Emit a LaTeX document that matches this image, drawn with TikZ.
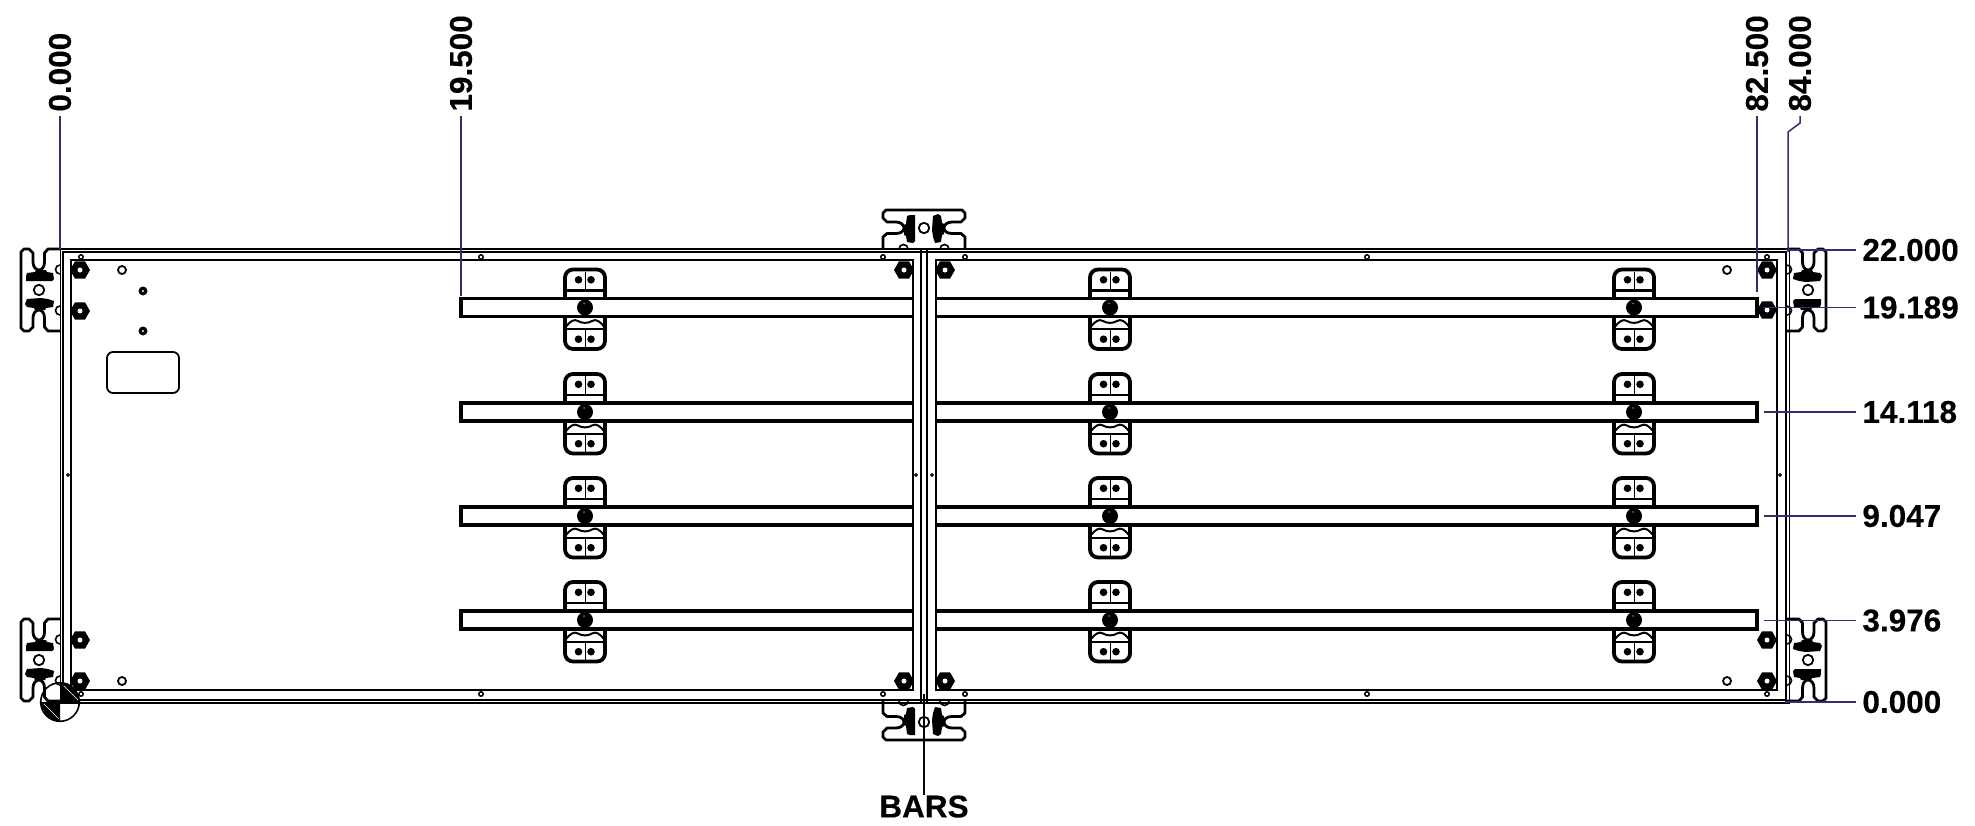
\documentclass[tikz,border=0pt]{standalone}
\usepackage{fontspec}
\setmainfont{Liberation Sans}[BoldFeatures={FakeBold=0.25}]
\definecolor{navyline}{RGB}{48,48,112}
\usetikzlibrary{calc}
\tikzset{
  x=0.5pt,y=-0.5pt,
  frameline/.style={line width=0.9pt,black},
  barline/.style={line width=1.65pt,black},
  bracketline/.style={line width=1.4pt,black,line join=round},
  leaderline/.style={line width=0.75pt,navyline},
  dimtext/.style={font=\fontsize{15.75}{16}\selectfont\bfseries,inner ysep=0pt,inner xsep=3pt,black},
}
\newcommand{\Hexbolt}[2]{%
  \fill[black] ($(#1,#2)+(0:10)$) -- ($(#1,#2)+(60:10)$) -- ($(#1,#2)+(120:10)$) -- ($(#1,#2)+(180:10)$) -- ($(#1,#2)+(240:10)$) -- ($(#1,#2)+(300:10)$) -- cycle;
  \fill[white] (#1,#2) circle[radius=2.5];
}
\newcommand{\Pin}[2]{\draw[line width=0.75pt] (#1,#2) circle[radius=2.2];}
\newcommand{\Ring}[2]{\draw[line width=0.9pt] (#1,#2) circle[radius=4];}
\newcommand{\Stud}[2]{\fill[black] (#1,#2) circle[radius=4.5]; \fill[white] (#1,#2) circle[radius=1.2];}
\newcommand{\Speck}[2]{\draw[line width=0.55pt] (#1,#2) circle[radius=1.4];}
% bracket in local coordinates, washer at the origin, frame side at +v
\newcommand{\Bracket}{%
  \draw[bracketline] (-41,21) -- (-41,9) -- (-37,5.5) -- (-28,5.5)
     .. controls (-23,5.5) and (-20,3) .. (-20,0)
     .. controls (-20,-3) and (-23,-6) .. (-28,-6)
     -- (-37,-6) -- (-41,-10) -- (-41,-15) -- (-38,-18) -- (38,-18) -- (41,-15) -- (41,-10) -- (37,-6) -- (28,-6)
     .. controls (23,-6) and (20,-3) .. (20,0)
     .. controls (20,3) and (23,5.5) .. (28,5.5)
     -- (37,5.5) -- (41,9) -- (41,21);
  \draw[line width=0.8pt] (-25,21) arc[start angle=180,end angle=360,x radius=4.5,y radius=4.5];
  \draw[line width=0.8pt] (16,21) arc[start angle=180,end angle=360,x radius=4.5,y radius=4.5];
  \fill[black] (-17,-12) -- (-14,-13) -- (-9,-13) -- (-9,13) -- (-11,15) -- (-17,14) -- (-18,8) -- (-20,7) -- (-20,-3) -- (-18,-4) -- cycle;
  \fill[black] (9,-12) -- (14,-14) -- (17,-12) -- (18,-5) -- (20,-4) -- (20,6) -- (18,7) -- (17,14) -- (11,15) -- (9,9) -- (8,2) -- cycle;
  \draw[line width=0.9pt] (0,0) circle[radius=5.2];
}
\newcommand{\ClipBody}[2]{%
  \begin{scope}[shift={(#1,#2)}]
    \draw[line width=1.9pt,rounded corners=4pt] (-20,-7) -- (-20,-38) -- (20,-38) -- (20,-7);
    \draw[line width=1.9pt,rounded corners=4pt] (-20,7) -- (-20,41.5) -- (20,41.5) -- (20,7);
    \draw[line width=1.2pt] (-20,-17) -- (20,-17);
    \draw[line width=1.2pt] (-20,21.7) -- (20,21.7);
    \draw[line width=0.5pt] (0,-36) -- (0,-17);
    \draw[line width=0.5pt] (0,21.7) -- (0,40);
    \fill (-6.5,-27.7) circle[radius=3.8];
    \fill (6,-27.7) circle[radius=3.8];
    \fill (-6.5,31.7) circle[radius=3.8];
    \fill (6,31.7) circle[radius=3.8];
    \draw[line width=1pt] (-19,19) .. controls (-15,14) and (-11,11) .. (-7,13.5) .. controls (-3,16) and (3,16) .. (7,13.5) .. controls (11,11) and (15,14) .. (19,19);
  \end{scope}}
\newcommand{\Ball}[2]{\fill[black] (#1,#2) circle[radius=8];\fill[black!55] ($(#1,#2)+(-1,-4)$) circle[radius=1];}
\begin{document}
\begin{tikzpicture}
\useasboundingbox (0,0) rectangle (1975,825);

% mounting brackets
\begin{scope}[shift={(39,290)},cm={0,-1,-1,0,(0,0)}]\Bracket\end{scope}
\begin{scope}[shift={(39,660)},cm={0,-1,-1,0,(0,0)}]\Bracket\end{scope}
\begin{scope}[shift={(1808,290)},cm={0,1,1,0,(0,0)}]\Bracket\end{scope}
\begin{scope}[shift={(1808,660)},cm={0,1,1,0,(0,0)}]\Bracket\end{scope}
\begin{scope}[shift={(924,228)}]\Bracket\end{scope}
\begin{scope}[shift={(924,722)},cm={1,0,0,-1,(0,0)}]\Bracket\end{scope}

% clips and bars
\foreach \ry in {307.5,412,516,620}{
  \foreach \cx in {585,1110,1634}{\ClipBody{\cx}{\ry}}
  \fill[white] (461,\ry-9) rectangle (913,\ry+9);
  \fill[white] (936,\ry-9) rectangle (1757,\ry+9);
  \draw[barline] (913,\ry-9) -- (461,\ry-9) -- (461,\ry+9) -- (913,\ry+9);
  \draw[barline] (936,\ry-9) -- (1757,\ry-9) -- (1757,\ry+9) -- (936,\ry+9);
  \foreach \cx in {585,1110,1634}{\Ball{\cx}{\ry}}
}

% frame
\draw[frameline] (60.5,249.3) -- (1789.5,249.3) -- (1789.5,703) -- (60.5,703) -- cycle;
\draw[frameline] (63,252) -- (1786,252) -- (1786,700) -- (63,700) -- cycle;
\draw[frameline] (71,690) -- (71,260) -- (913,260) -- (913,690) -- cycle;
\draw[frameline] (1777,690) -- (1777,260) -- (936,260) -- (936,690) -- cycle;
\draw[line width=1pt] (62,248.7) -- (92,248.7);
\draw[line width=1pt] (1757,248.7) -- (1786,248.7);
\draw[line width=1pt] (62,703) -- (92,703);
\draw[line width=1pt] (1757,703) -- (1786,703);
\draw[line width=1.1pt] (921.3,249) -- (921.3,703);
\draw[line width=1.1pt] (926.7,249) -- (926.7,703);

% window
\draw[line width=0.9pt,rounded corners=3pt] (107,352) rectangle (179,393);

% fasteners
\Hexbolt{80}{270}\Hexbolt{80}{311}\Hexbolt{80}{640}\Hexbolt{80}{681}
\Hexbolt{904}{270}\Hexbolt{945}{270}\Hexbolt{904}{681}\Hexbolt{945}{681}
\Hexbolt{1767}{270}\Hexbolt{1767}{310}\Hexbolt{1767}{640}\Hexbolt{1767}{681}
\Ring{122}{270}\Ring{122}{681}\Ring{1727}{270}\Ring{1727}{681}
\Stud{143}{291}\Stud{143}{331}
\foreach \px in {81,481,883,965,1367,1767}{\Pin{\px}{257}\Pin{\px}{694}}
\Speck{68}{475}\Speck{916}{475}\Speck{932}{475}\Speck{1780}{475}

% datum symbol
\coordinate (datum) at (60,702);
\fill[black] (datum) -- ++(19.3,0) arc[start angle=0,end angle=-90,radius=19.3] -- cycle;
\fill[black] (datum) -- ++(-19.3,0) arc[start angle=180,end angle=90,radius=19.3] -- cycle;
\draw[line width=0.8pt] (datum) circle[radius=19.3];
\draw[line width=0.3pt,white] ($(datum)+(-16,2)$) -- ($(datum)+(-1,17)$);
\draw[line width=0.3pt,white] ($(datum)+(4,-16)$) -- ($(datum)+(18,-2)$);

% dimension labels
\node[dimtext,inner xsep=2pt,rotate=90,anchor=west] (v0) at (60,116) {0.000};
\node[dimtext,inner xsep=2pt,rotate=90,anchor=west] (v195) at (461,116) {19.500};
\node[dimtext,inner xsep=2pt,rotate=90,anchor=west] (v825) at (1757,116) {82.500};
\node[dimtext,inner xsep=2pt,rotate=90,anchor=west] (v84) at (1800,116) {84.000};
\node[dimtext,anchor=west] (h22) at (1856,250) {22.000};
\node[dimtext,anchor=west] (h19) at (1856,307.5) {19.189};
\node[dimtext,anchor=west] (h14) at (1856,412) {14.118};
\node[dimtext,anchor=west] (h9) at (1856,516) {9.047};
\node[dimtext,anchor=west] (h4) at (1856,620.5) {3.976};
\node[dimtext,anchor=west] (h0) at (1856,702) {0.000};
\node[dimtext,anchor=north,inner ysep=0pt] (bars) at (924,795) {BARS};

\coordinate (e0) at (60,250);
\coordinate (e195) at (461,296);
\coordinate (e825) at (1757,292);
\coordinate (k84a) at (1800,123);
\coordinate (k84b) at (1788,132);
\coordinate (e84) at (1788,252);
\coordinate (f22) at (1787,250);
\coordinate (f19) at (1763,307.5);
\coordinate (f14) at (1764,412);
\coordinate (f9) at (1764,516);
\coordinate (f4) at (1764,620.5);
\coordinate (f0) at (1785,702);
\coordinate (fb) at (924,694);

\draw[leaderline] (v0.west) -- (e0);
\draw[leaderline] (v195.west) -- (e195);
\draw[leaderline] (v825.west) -- (e825);
\draw[leaderline] (v84.west) -- (k84a) -- (k84b) -- (e84);
\draw[leaderline] (h22.west) -- (f22);
\draw[leaderline] (h19.west) -- (f19);
\draw[leaderline] (h14.west) -- (f14);
\draw[leaderline] (h9.west) -- (f9);
\draw[leaderline] (h4.west) -- (f4);
\draw[leaderline] (h0.west) -- (f0);
\draw[line width=0.75pt,black!85!navyline] (bars.north) -- (fb);
\end{tikzpicture}
\end{document}
